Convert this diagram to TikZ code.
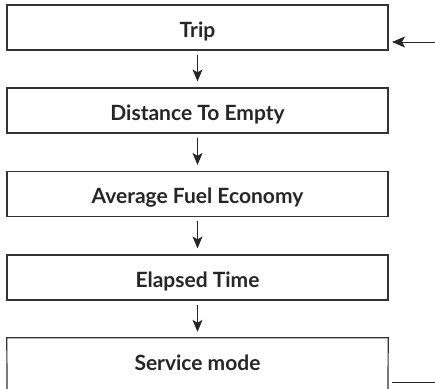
\documentclass[tikz,border=0pt]{standalone}
\usepackage{fontspec}
\setmainfont{Lato}
\usetikzlibrary{arrows.meta}
\begin{document}
\begin{tikzpicture}[x=1pt,y=-1pt,
  boxtext/.style={minimum width=381pt, minimum height=45pt, inner sep=0pt, text height=19pt, text depth=0pt,
    font=\fontsize{21}{24}\selectfont\bfseries, text=black!85},
  stepbox/.style={boxtext, draw=black!80, line width=1.2pt},
  conn/.style={draw=black!85, line width=1pt, -{Stealth[length=12pt,width=10pt,inset=3pt]}},
  side/.style={draw=black!85, line width=1pt}]
\useasboundingbox (0,0) rectangle (435,388);
\node[stepbox] (b1) at (197.5,27.5) {Trip};
\node[stepbox] (b2) at (197.5,110.5) {Distance To Empty};
\node[stepbox] (b3) at (197.5,194) {Average Fuel Economy};
\node[stepbox] (b4) at (197.5,277.5) {Elapsed Time};
\node[boxtext] (b5) at (197.5,360.5) {Service mode};
\draw[draw=black!80, line width=1.2pt] (7,389) -- (b5.north west) -- (b5.north east) -- (388,389);
\draw[conn, shorten <=4pt, shorten >=6pt] (b1.south) -- (b2.north);
\draw[conn, shorten <=4pt, shorten >=6pt] (b2.south) -- (b3.north);
\draw[conn, shorten <=4pt, shorten >=6pt] (b3.south) -- (b4.north);
\draw[conn, shorten <=4pt, shorten >=6pt] (b4.south) -- (b5.north);
\coordinate (inR) at (435,42);
\coordinate (inT) at (392,42);
\draw[conn, -{Stealth[length=13pt,width=11pt,inset=3pt]}] (inR) -- (inT);
\coordinate (outL) at (392,382);
\coordinate (outR) at (435,382);
\draw[side] (outL) -- (outR);
\end{tikzpicture}
\end{document}
